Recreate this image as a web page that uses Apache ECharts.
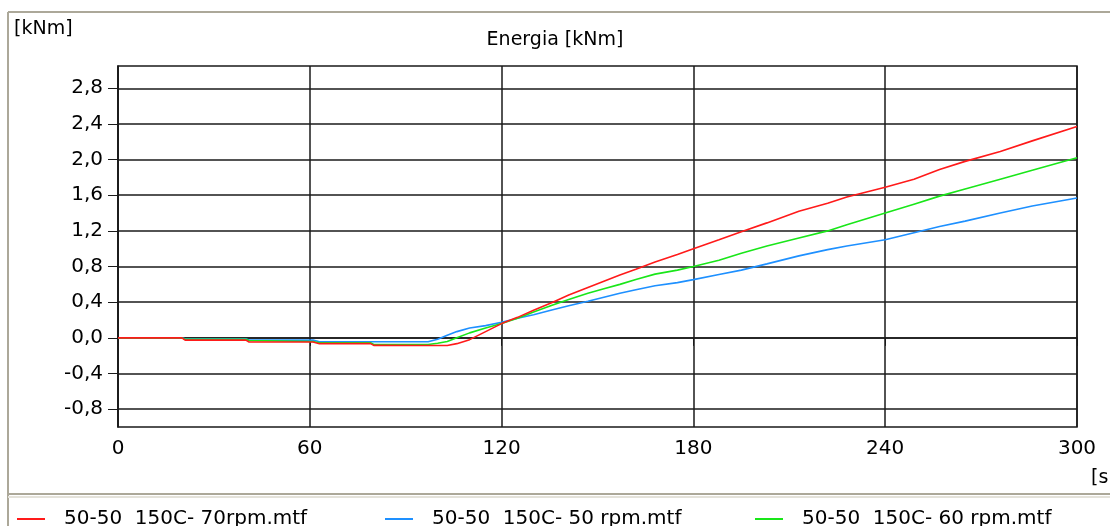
<!DOCTYPE html>
<html>
<head>
<meta charset="utf-8">
<script src="https://cdn.jsdelivr.net/npm/echarts@6/dist/echarts.min.js"></script>
<style>
html, body { margin: 0; padding: 0; background: #fff; }
#chart { width: 1110px; height: 526px; }
</style>
</head>
<body>
<div id="chart"></div>
<script>
// dati
var seriesNames = ['50-50  150C- 70rpm.mtf', '50-50  150C- 50 rpm.mtf', '50-50  150C- 60 rpm.mtf'];
var timeSec = [0, 20, 21, 40, 41, 61, 63, 79, 80, 97, 100, 103, 106, 110, 115, 120, 125, 130, 136, 141,
               147, 152, 157, 162, 168, 175, 180, 188, 195, 203, 213, 222, 228, 240, 249, 257, 265, 276, 286, 300];
var rpm70 = [0, 0, -0.025, -0.025, -0.047, -0.047, -0.065, -0.065, -0.084, -0.086, -0.086, -0.085, -0.065, -0.02, 0.07, 0.16, 0.23, 0.31, 0.40, 0.48,
             0.565, 0.635, 0.705, 0.77, 0.85, 0.935, 1.0, 1.10, 1.19, 1.29, 1.42, 1.51, 1.58, 1.69, 1.78, 1.89, 1.98, 2.09, 2.21, 2.37];
var rpm50 = [0, 0, -0.011, -0.011, -0.025, -0.025, -0.044, -0.044, -0.044, -0.044, -0.015, 0.03, 0.07, 0.11, 0.137, 0.175, 0.22, 0.26, 0.315, 0.36,
             0.41, 0.455, 0.50, 0.54, 0.585, 0.62, 0.653, 0.71, 0.76, 0.83, 0.92, 0.99, 1.03, 1.10, 1.18, 1.25, 1.31, 1.40, 1.48, 1.57];
var rpm60 = [0, 0, -0.015, -0.015, -0.03, -0.04, -0.055, -0.055, -0.075, -0.075, -0.06, -0.04, 0.0, 0.056, 0.11, 0.16, 0.22, 0.29, 0.37, 0.43,
             0.50, 0.55, 0.60, 0.655, 0.715, 0.76, 0.80, 0.87, 0.95, 1.03, 1.12, 1.20, 1.27, 1.40, 1.50, 1.59, 1.67, 1.78, 1.88, 2.02];
var yTicks = [-0.8, -0.4, 0, 0.4, 0.8, 1.2, 1.6, 2.0, 2.4, 2.8];
var colors = ['#ff1a1a', '#1e90ff', '#19e619'];

function pairs(vals) {
    return timeSec.map(function (t, i) { return [t, vals[i]]; });
}

var font = 'DejaVu Sans';
var gridColor = '#1a1a1a';

option = {
    animation: false,
    backgroundColor: '#fff',
    title: {
        text: 'Energia [kNm]',
        left: 'center',
        top: 26,
        textStyle: { color: '#000', fontFamily: font, fontSize: 19, fontWeight: 'normal' }
    },
    legend: [0, 1, 2].map(function (i) {
        return {
            data: [seriesNames[i]],
            left: [12, 380, 750][i],
            top: 504,
            icon: 'rect',
            itemWidth: 28,
            itemHeight: 2,
            textStyle: { color: '#000', fontFamily: font, fontSize: 20, padding: [0, 0, 0, 14] }
        };
    }),
    grid: {
        left: 118, right: 33, top: 66, bottom: 99,
        show: true,
        borderColor: gridColor,
        borderWidth: 1.5,
        outerBoundsMode: 'none'
    },
    xAxis: {
        type: 'value',
        min: 0, max: 300, interval: 60,
        axisLine: { show: true, lineStyle: { color: gridColor, width: 1.5 } },
        axisTick: { show: true, inside: false, length: 8, lineStyle: { color: gridColor } },
        axisLabel: { color: '#000', fontFamily: font, fontSize: 20, margin: 12 },
        splitLine: { show: true, lineStyle: { color: gridColor, width: 1.5 } }
    },
    yAxis: {
        type: 'value',
        min: -1.0, max: 3.05,
        axisLine: { show: true, lineStyle: { color: gridColor, width: 1.5 } },
        axisTick: { show: true, length: 10, customValues: yTicks, lineStyle: { color: gridColor } },
        axisLabel: {
            color: '#000', fontFamily: font, fontSize: 20, margin: 15,
            customValues: yTicks,
            formatter: function (v) { return v.toFixed(1).replace('.', ','); }
        },
        splitLine: { show: true, lineStyle: { color: gridColor, width: 1.5 } }
    },
    graphic: [
        { type: 'line', shape: { x1: 8, y1: 12, x2: 1110, y2: 12 }, style: { stroke: '#aca899', lineWidth: 2 } },
        { type: 'line', shape: { x1: 8, y1: 12, x2: 8, y2: 526 }, style: { stroke: '#aca899', lineWidth: 2 } },
        { type: 'line', shape: { x1: 8, y1: 494, x2: 1110, y2: 494 }, style: { stroke: '#aca899', lineWidth: 2 } },
        { type: 'line', shape: { x1: 8, y1: 497, x2: 1110, y2: 497 }, style: { stroke: '#e4e2da', lineWidth: 2 } },
        { type: 'text', left: 14, top: 20, style: { text: '[kNm]', fill: '#000', font: '19px "DejaVu Sans"' } },
        { type: 'text', left: 1091, top: 469, style: { text: '[s', fill: '#000', font: '19px "DejaVu Sans"' } }
    ],
    series: [rpm70, rpm50, rpm60].map(function (vals, i) {
        return {
            name: seriesNames[i],
            type: 'line',
            data: pairs(vals),
            symbol: 'none',
            color: colors[i],
            lineStyle: { color: colors[i], width: 1.6 },
            z: 3 + (i === 0 ? 2 : i === 2 ? 1 : 0)
        };
    })
};

var myChart = echarts.init(document.getElementById('chart'));
myChart.setOption(option);
</script>
</body>
</html>
